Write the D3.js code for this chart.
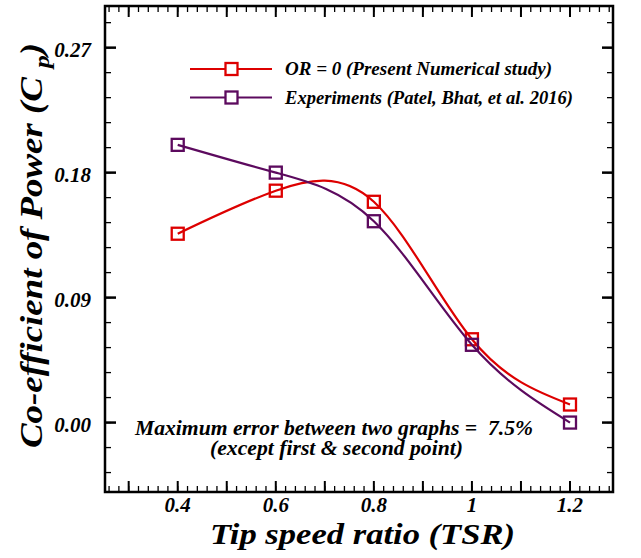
<!DOCTYPE html>
<html>
<head>
<meta charset="utf-8">
<script src="https://cdn.jsdelivr.net/npm/d3@7"></script>
<style>
  body { margin: 0; background: #fff; }
  text { font-family: "Liberation Serif", "Times New Roman", serif; font-weight: bold; font-style: italic; }
</style>
</head>
<body>
<svg id="chart" width="641" height="558"></svg>
<script>
// data
let tsr = [0.4, 0.6, 0.8, 1.0, 1.2];
let cpPresent = [0.136, 0.167, 0.159, 0.060, 0.013];
let cpExperiment = [0.200, 0.180, 0.145, 0.056, 0.000];
let seriesNames = ["OR = 0 (Present Numerical study)", "Experiments (Patel, Bhat, et al. 2016)"];
let seriesColors = ["#dd0000", "#5c0a5e"];
let xTickValues = [0.4, 0.6, 0.8, 1.0, 1.2];
let yTickValues = [0.00, 0.09, 0.18, 0.27];

function make_chart(){
    let LEFT = 105, RIGHT = 613, TOP = 6, BOTTOM = 492;
    let svg = d3.select('#chart');

    // scales
    let xScale = d3.scaleLinear().domain([0.2517, 1.2877]).range([LEFT, RIGHT]);
    let yScale = d3.scaleLinear().domain([-0.05, 0.30]).range([BOTTOM, TOP]);

    // minor and major ticks (inward, on all four sides)
    let xMinor = d3.range(0.26, 1.29, 0.02).map(v => +v.toFixed(2));
    let xMajor = d3.range(0.3, 1.29, 0.1).map(v => +v.toFixed(2));
    let yMinor = d3.range(-0.036, 0.30, 0.018).map(v => +v.toFixed(3));

    let ticks = svg.append('g').attr('stroke', '#000');
    [[BOTTOM, -1], [TOP, 1]].forEach(([y0, dir]) => {
        ticks.append('g').selectAll('line').data(xMinor).join('line')
            .attr('x1', d => xScale(d)).attr('x2', d => xScale(d))
            .attr('y1', y0).attr('y2', y0 + dir * 6).attr('stroke-width', 1.3);
        ticks.append('g').selectAll('line').data(xMajor).join('line')
            .attr('x1', d => xScale(d)).attr('x2', d => xScale(d))
            .attr('y1', y0).attr('y2', y0 + dir * 11).attr('stroke-width', 2);
    });
    [[LEFT, 1], [RIGHT, -1]].forEach(([x0, dir]) => {
        ticks.append('g').selectAll('line').data(yMinor).join('line')
            .attr('y1', d => yScale(d)).attr('y2', d => yScale(d))
            .attr('x1', x0).attr('x2', x0 + dir * 6).attr('stroke-width', 1.3);
        ticks.append('g').selectAll('line').data(yTickValues).join('line')
            .attr('y1', d => yScale(d)).attr('y2', d => yScale(d))
            .attr('x1', x0).attr('x2', x0 + dir * 11).attr('stroke-width', 2.5);
    });

    // frame
    svg.append('rect')
        .attr('x', LEFT).attr('y', TOP)
        .attr('width', RIGHT - LEFT).attr('height', BOTTOM - TOP)
        .attr('fill', 'none').attr('stroke', '#000').attr('stroke-width', 2.5);

    // tick labels
    svg.append('g').selectAll('text').data(xTickValues).join('text')
        .attr('x', d => xScale(d)).attr('y', 512)
        .attr('text-anchor', 'middle').attr('font-size', 21)
        .text(d => d === 1 ? '1' : d3.format('.1f')(d));
    svg.append('g').selectAll('text').data(yTickValues).join('text')
        .attr('x', 91).attr('y', d => yScale(d) + 9.5)
        .attr('text-anchor', 'end').attr('font-size', 21)
        .text(d => d3.format('.2f')(d));

    // axis titles
    svg.append('text')
        .attr('x', 362.5).attr('y', 543.5)
        .attr('text-anchor', 'middle').attr('font-size', 30)
        .attr('textLength', 305).attr('lengthAdjust', 'spacingAndGlyphs')
        .text('Tip speed ratio (TSR)');
    let yTitle = svg.append('text')
        .attr('transform', 'translate(42,245.5) rotate(-90)')
        .attr('text-anchor', 'middle').attr('font-size', 32)
        .attr('textLength', 405).attr('lengthAdjust', 'spacingAndGlyphs');
    yTitle.append('tspan').text('Co-efficient of Power (C ');
    yTitle.append('tspan').attr('font-size', 22).attr('dy', 7).text('p');
    yTitle.append('tspan').attr('dy', -7).text(')');

    // curves
    let series = [cpPresent, cpExperiment];
    let line = d3.line()
        .x((d, i) => xScale(tsr[i]))
        .y(d => yScale(d))
        .curve(d3.curveNatural);

    series.forEach((vals, k) => {
        svg.append('path')
            .attr('d', line(vals))
            .attr('fill', 'none')
            .attr('stroke', seriesColors[k])
            .attr('stroke-width', 2.2);
        svg.append('g').selectAll('rect').data(vals).join('rect')
            .attr('x', (d, i) => xScale(tsr[i]) - 6)
            .attr('y', d => yScale(d) - 6)
            .attr('width', 12).attr('height', 12)
            .attr('fill', 'none')
            .attr('stroke', seriesColors[k])
            .attr('stroke-width', 2.3);
    });

    // legend
    let legendLengths = [267, 288];
    let legend = svg.append('g');
    seriesNames.forEach((name, k) => {
        let ly = 69 + k * 28.5;
        legend.append('line')
            .attr('x1', 190).attr('x2', 272).attr('y1', ly).attr('y2', ly)
            .attr('stroke', seriesColors[k]).attr('stroke-width', 2.2);
        legend.append('rect')
            .attr('x', 231.5 - 6).attr('y', ly - 6).attr('width', 12).attr('height', 12)
            .attr('fill', '#fff').attr('stroke', seriesColors[k]).attr('stroke-width', 2.3);
        legend.append('text')
            .attr('x', 285).attr('y', ly + 6)
            .attr('font-size', 18)
            .attr('textLength', legendLengths[k]).attr('lengthAdjust', 'spacingAndGlyphs')
            .text(name);
    });

    // annotation
    svg.append('text')
        .attr('x', 334).attr('y', 435)
        .attr('text-anchor', 'middle').attr('font-size', 20)
        .attr('textLength', 398).attr('lengthAdjust', 'spacingAndGlyphs')
        .attr('xml:space', 'preserve')
        .text('Maximum error between two graphs =  7.5%');
    svg.append('text')
        .attr('x', 336.5).attr('y', 455)
        .attr('text-anchor', 'middle').attr('font-size', 20)
        .attr('textLength', 253).attr('lengthAdjust', 'spacingAndGlyphs')
        .text('(except first & second point)');
}
make_chart();
</script>
</body>
</html>
